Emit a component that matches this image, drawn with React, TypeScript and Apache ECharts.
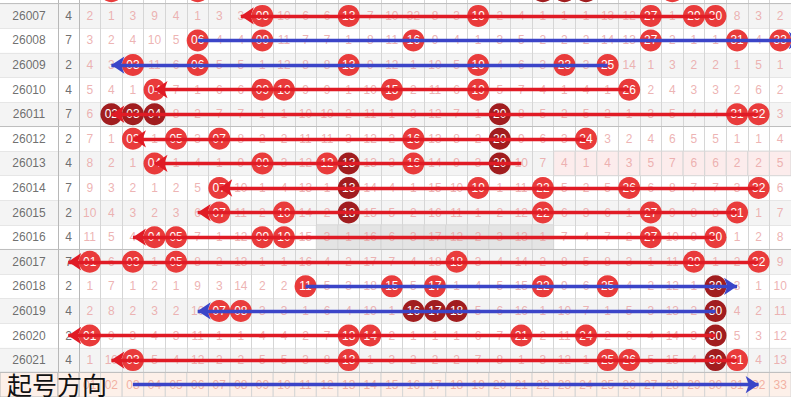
import React, { useEffect, useRef } from 'react';
import * as echarts from 'echarts';

// ---------- data ----------
const periods = ['26006', '26007', '26008', '26009', '26010', '26011', '26012', '26013', '26014', '26015', '26016', '26017', '26018', '26019', '26020', '26021'];
const footerName = '号码';
const numbers = ['01', '02', '03', '04', '05', '06', '07', '08', '09', '10', '11', '12', '13', '14', '15', '16', '17', '18', '19', '20', '21', '22', '23', '24', '25', '26', '27', '28', '29', '30', '31', '32', '33'];

// the small column right of the period (26006 is cut off above the page)
const sumValues = [null, 4, 7, 2, 4, 7, 2, 4, 7, 2, 4, 7, 2, 4, 2, 4];

// drawn numbers per period (same order as periods)
const drawnBalls: number[][] = [
  [2, 6, 22, 23, 24, 28],
  [9, 13, 19, 27, 29, 30],
  [6, 9, 16, 27, 31, 33],
  [3, 6, 13, 19, 23, 25],
  [4, 9, 10, 15, 19, 26],
  [2, 3, 4, 20, 31, 32],
  [3, 5, 7, 16, 20, 24],
  [4, 9, 12, 13, 16, 20],
  [7, 13, 19, 22, 26, 32],
  [7, 10, 13, 22, 27, 31],
  [4, 5, 9, 10, 27, 30],
  [1, 3, 5, 18, 29, 32],
  [11, 15, 17, 22, 25, 30],
  [7, 8, 16, 17, 18, 30],
  [1, 13, 14, 21, 24, 30],
  [3, 13, 25, 26, 30, 31],
];
// balls shown in dark red
const darkBalls: number[][] = [
  [22, 23, 24], [], [], [], [], [2, 3, 4, 20], [20], [13, 20], [13], [13], [], [], [30], [16, 17, 18, 30], [30], [30],
];
// first visible period (rows above it are only a sliver at the top edge)
const firstVisible = '26007';

// omission counts per period 26007..26021 (0 = drawn ball)
const omissionRows: number[][] = [
  [2, 1, 3, 9, 4, 1, 3, 3, 0, 10, 6, 6, 0, 7, 10, 32, 8, 3, 0, 2, 4, 1, 1, 1, 13, 12, 0, 1, 0, 0, 8, 3, 2],
  [3, 2, 4, 10, 5, 0, 4, 4, 0, 11, 7, 7, 1, 8, 11, 0, 9, 4, 1, 3, 5, 2, 2, 2, 14, 13, 0, 2, 1, 1, 0, 4, 0],
  [4, 3, 0, 11, 6, 0, 5, 5, 1, 12, 8, 8, 0, 9, 12, 1, 10, 5, 0, 4, 6, 3, 0, 3, 0, 14, 1, 3, 2, 2, 1, 5, 1],
  [5, 4, 1, 0, 7, 1, 6, 6, 0, 0, 9, 9, 1, 10, 0, 2, 11, 6, 0, 5, 7, 4, 1, 4, 1, 0, 2, 4, 3, 3, 2, 6, 2],
  [6, 0, 0, 0, 8, 2, 7, 7, 1, 1, 10, 10, 2, 11, 1, 3, 12, 7, 1, 0, 8, 5, 2, 5, 2, 1, 3, 5, 4, 4, 0, 0, 3],
  [7, 1, 0, 1, 0, 3, 0, 8, 2, 2, 11, 11, 3, 12, 2, 0, 13, 8, 2, 0, 9, 6, 3, 0, 3, 2, 4, 6, 5, 5, 1, 1, 4],
  [8, 2, 1, 0, 1, 4, 1, 9, 0, 3, 12, 0, 0, 13, 3, 0, 14, 9, 3, 0, 10, 7, 4, 1, 4, 3, 5, 7, 6, 6, 2, 2, 5],
  [9, 3, 2, 1, 2, 5, 0, 10, 1, 4, 13, 1, 0, 14, 4, 1, 15, 10, 0, 1, 11, 0, 5, 2, 5, 0, 6, 8, 7, 7, 3, 0, 6],
  [10, 4, 3, 2, 3, 6, 0, 11, 2, 0, 14, 2, 0, 15, 5, 2, 16, 11, 1, 2, 12, 0, 6, 3, 6, 1, 0, 9, 8, 8, 0, 1, 7],
  [11, 5, 4, 0, 0, 7, 1, 12, 0, 0, 15, 3, 1, 16, 6, 3, 17, 12, 2, 3, 13, 1, 7, 4, 7, 2, 0, 10, 9, 0, 1, 2, 8],
  [0, 6, 0, 1, 0, 8, 2, 13, 1, 1, 16, 4, 2, 17, 7, 4, 18, 0, 3, 4, 14, 2, 8, 5, 8, 3, 1, 11, 0, 1, 2, 0, 9],
  [1, 7, 1, 2, 1, 9, 3, 14, 2, 2, 0, 5, 3, 18, 0, 5, 0, 1, 4, 5, 15, 0, 9, 6, 0, 4, 2, 12, 1, 0, 3, 1, 10],
  [2, 8, 2, 3, 2, 10, 0, 0, 3, 3, 1, 6, 4, 19, 1, 0, 0, 0, 5, 6, 16, 1, 10, 7, 1, 5, 3, 13, 2, 0, 4, 2, 11],
  [0, 9, 3, 4, 3, 11, 1, 1, 4, 4, 2, 7, 0, 0, 2, 1, 1, 1, 6, 7, 0, 2, 11, 0, 2, 6, 4, 14, 3, 0, 5, 3, 12],
  [1, 10, 0, 5, 4, 12, 2, 2, 5, 5, 3, 8, 0, 1, 3, 2, 2, 2, 7, 8, 1, 3, 12, 1, 0, 0, 5, 15, 4, 0, 0, 4, 13],
];
const omissionPeriods = ['26007', '26008', '26009', '26010', '26011', '26012', '26013', '26014', '26015', '26016', '26017', '26018', '26019', '26020', '26021'];

// direction traces: start and arrow tip, in number units
const tracePeriods = ['26007', '26008', '26009', '26010', '26011', '26012', '26013', '26014', '26015', '26016', '26017', '26018', '26019', '26020', '26021'];
const traceFrom = [30.1, 6.0, 25.0, 26.4, 32.1, 23.9, 20.5, 32.2, 31.0, 29.9, 32.3, 10.7, 30.1, 30.1, 31.0];
const traceTo = [8.1, 33.5, 2.1, 3.5, 1.5, 2.5, 3.55, 6.8, 6.3, 3.3, 0.2, 30.5, 6.1, 0.45, 2.15];
const traceColor = ['red', 'blue', 'blue', 'red', 'red', 'red', 'red', 'red', 'red', 'red', 'red', 'blue', 'blue', 'red', 'red'];
const footerTraceFrom = 3.0;
const footerTraceTo = 31.8;

// highlighted cells
const pinkRow = '26013';
const pinkCols = [23, 33];
const grayRow = '26016';
const grayCols = [12, 22];
// row groups end after these periods
const groupEnds = ['26006', '26011', '26016', '26021'];

// ---------- style ----------
const C = {
  red: '#e93b3b',
  dark: '#a11d1f',
  lineRed: '#e01b25',
  lineBlue: '#3b45c8',
  omit: '#e9a0a0',
  footerText: '#efa090',
  text: '#4a4a4a',
  stripe: '#f4f4f4',
  pink: '#fcecec',
  gray: '#e4e4e4',
  footerBg: '#fdf0e9',
  vline: '#d6d6d6',
  hline: '#e6e6e6',
  sep: '#bdbdbd',
  colSep: '#b8b8b8',
};
const FONT = 'Arial, "Liberation Sans", sans-serif';
const ROW_H = 24.6;
const TOP_CUT = 21.4; // part of the first (cut) row hidden above the page

function buildOption() {
  const rowNames = [...periods, footerName];
  const footerIdx = rowNames.length - 1;
  const firstIdx = rowNames.indexOf(firstVisible);
  const gridH = ROW_H * rowNames.length;
  const grid = [
    { left: 0, top: 0, width: 58, height: gridH },
    { left: 58, top: 0, width: 21, height: gridH },
    { left: 79, top: 0, width: 712, height: gridH },
  ];
  const xData = [['期号'], ['和'], numbers];
  const xAxis = xData.map((d, i) => ({
    type: 'category', gridIndex: i, data: d, boundaryGap: true,
    axisLine: { show: false }, axisTick: { show: false }, axisLabel: { show: false },
    splitLine: { show: true, interval: 0, showMinLine: i === 1, lineStyle: { color: i === 2 ? C.vline : C.colSep, width: 1 } },
  }));
  const yAxis = [0, 1, 2].map((i) => ({
    type: 'category', gridIndex: i, data: rowNames, inverse: true, boundaryGap: true,
    axisLine: { show: false }, axisTick: { show: false }, axisLabel: { show: false },
    splitLine: { show: true, interval: 0, lineStyle: { color: C.hline, width: 1 } },
    splitArea: { show: true, interval: 0, areaStyle: { color: ['#ffffff', C.stripe] } },
  }));

  const overlayData: number[][] = [];
  const overlayFill: string[] = [];
  const pr = rowNames.indexOf(pinkRow);
  for (let c = pinkCols[0]; c <= pinkCols[1]; c++) { overlayData.push([c - 1, pr]); overlayFill.push(C.pink); }
  const gr = rowNames.indexOf(grayRow);
  for (let c = grayCols[0]; c <= grayCols[1]; c++) { overlayData.push([c - 1, gr]); overlayFill.push(C.gray); }
  for (let c = 1; c <= numbers.length; c++) { overlayData.push([c - 1, footerIdx]); overlayFill.push(C.footerBg); }

  const cellRender = (fills: string[], stroke: string) => (params: any, api: any) => {
    const p = api.coord([api.value(0), api.value(1)]);
    const s = api.size([1, 1]);
    return {
      type: 'rect',
      shape: { x: p[0] - s[0] / 2, y: p[1] - s[1] / 2, width: s[0], height: s[1] },
      style: { fill: fills[params.dataIndex], stroke, lineWidth: 1 },
    };
  };
  const sepRender = (params: any, api: any) => {
    const p = api.coord([0, api.value(1)]);
    const s = api.size([1, 1]);
    const y = p[1] + s[1] / 2;
    const cs = params.coordSys;
    return { type: 'line', shape: { x1: cs.x, y1: y, x2: cs.x + cs.width, y2: y }, style: { stroke: C.sep, lineWidth: 1 } };
  };
  const sepData = groupEnds.map((p) => [0, rowNames.indexOf(p)]);

  const series: any[] = [];
  series.push({ type: 'custom', xAxisIndex: 2, yAxisIndex: 2, z: 1, silent: true, renderItem: cellRender(overlayFill, C.vline), data: overlayData });
  [0, 1].forEach((g) => {
    series.push({ type: 'custom', xAxisIndex: g, yAxisIndex: g, z: 1, silent: true, renderItem: cellRender([C.footerBg], C.colSep), data: [[0, footerIdx]] });
  });
  [0, 1, 2].forEach((g) => {
    series.push({ type: 'custom', xAxisIndex: g, yAxisIndex: g, z: 1.5, silent: true, renderItem: sepRender, data: sepData });
  });

  const textScatter = (g: number, data: any[], color: string, z = 2) => ({
    type: 'scatter', xAxisIndex: g, yAxisIndex: g, z, silent: true, symbolSize: 1,
    itemStyle: { color: 'rgba(0,0,0,0)' },
    label: { show: true, position: 'inside', color, fontSize: 12, fontFamily: FONT, formatter: (p: any) => String(p.value[2]) },
    emphasis: { disabled: true },
    data,
  });

  const periodData: any[] = [];
  periods.forEach((p, i) => { if (i >= firstIdx) periodData.push([0, i, p]); });
  series.push(textScatter(0, periodData, C.text));
  const sumData: any[] = [];
  sumValues.forEach((v, i) => { if (v !== null && i >= firstIdx) sumData.push([0, i, v]); });
  series.push(textScatter(1, sumData, C.text));

  const omitData: any[] = [];
  omissionRows.forEach((row, r) => {
    const yi = rowNames.indexOf(omissionPeriods[r]);
    row.forEach((v, c) => { if (v > 0) omitData.push([c, yi, v]); });
  });
  series.push(textScatter(2, omitData, C.omit));
  series.push(textScatter(2, numbers.map((n, c) => [c, footerIdx, n]), C.footerText));

  const redBalls: any[] = [];
  const darkData: any[] = [];
  drawnBalls.forEach((row, r) => {
    row.forEach((n) => {
      const item: any = { value: [n - 1, r, numbers[n - 1]] };
      if (r < firstIdx) item.label = { show: false };
      if (darkBalls[r].includes(n)) darkData.push(item); else redBalls.push(item);
    });
  });
  const ballSeries = (data: any[], color: string) => ({
    type: 'scatter', xAxisIndex: 2, yAxisIndex: 2, z: 3, silent: true, symbol: 'circle', symbolSize: 22,
    clip: false,
    itemStyle: { color, opacity: 1 },
    label: { show: true, position: 'inside', color: '#fff', fontSize: 12, fontFamily: FONT, formatter: (p: any) => String(p.value[2]) },
    emphasis: { disabled: true },
    data,
  });
  series.push(ballSeries(redBalls, C.red));
  series.push(ballSeries(darkData, C.dark));

  const redLines: any[] = [];
  const blueLines: any[] = [];
  tracePeriods.forEach((p, i) => {
    const yi = rowNames.indexOf(p);
    const item = { coords: [[traceFrom[i] - 1, yi], [traceTo[i] - 1, yi]] };
    if (traceColor[i] === 'red') redLines.push(item); else blueLines.push(item);
  });
  blueLines.push({ coords: [[footerTraceFrom - 1, footerIdx], [footerTraceTo - 1, footerIdx]] });
  const lineSeries = (data: any[], color: string) => ({
    type: 'lines', coordinateSystem: 'cartesian2d', xAxisIndex: 2, yAxisIndex: 2, z: 5, silent: true,
    clip: false, polyline: false,
    symbol: ['none', 'arrow'], symbolSize: 13,
    lineStyle: { color, width: 3.4, opacity: 1, curveness: 0 },
    data,
  });
  series.push(lineSeries(redLines, C.lineRed));
  series.push(lineSeries(blueLines, C.lineBlue));

  return {
    animation: false,
    backgroundColor: '#ffffff',
    textStyle: { fontFamily: FONT },
    grid,
    xAxis,
    yAxis,
    series,
    graphic: [
      {
        type: 'text', left: 7, top: 371 + TOP_CUT, z: 100, silent: true,
        style: { text: '起号方向', font: '25px "Noto Sans CJK SC", sans-serif', fill: '#111111' },
      },
    ],
  };
}

export default function App() {
  const ref = useRef<HTMLDivElement>(null);
  useEffect(() => {
    if (!ref.current) return;
    const chart = echarts.init(ref.current, null, { renderer: 'svg' });
    chart.setOption(buildOption() as any);
    return () => chart.dispose();
  }, []);
  return (
    <div style={{ position: 'fixed', left: 0, top: 0, width: 791, height: 397, overflow: 'hidden', background: '#fff' }}>
      <div
        ref={ref}
        style={{ position: 'absolute', left: 0, top: -TOP_CUT, width: 791, height: 397 + TOP_CUT }}
      />
    </div>
  );
}
